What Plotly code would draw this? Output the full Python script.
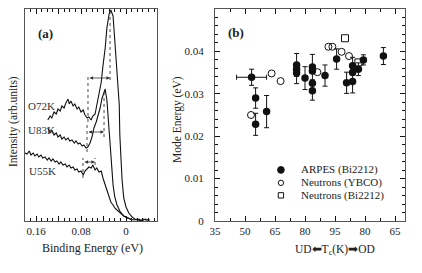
import plotly.graph_objects as go

# ---------------- Panel (a): EDC spectra ----------------
e_o72 = [0.139, 0.135, 0.132, 0.128, 0.124, 0.121, 0.117, 0.114, 0.110, 0.107, 0.103, 0.101,
         0.098, 0.094, 0.091, 0.087, 0.084, 0.080, 0.076, 0.073, 0.069, 0.066, 0.062, 0.059,
         0.055, 0.052, 0.048, 0.044, 0.041, 0.037, 0.034, 0.030, 0.027, 0.023, 0.020, 0.016,
         0.012, 0.011, 0.009, 0.007, 0.004, 0.000, -0.005, -0.011, -0.018, -0.023, -0.028,
         -0.034, -0.039]
i_o72 = [101, 105, 103, 109, 107, 112, 110, 115, 113, 118, 122, 117,
         120, 115, 117, 112, 114, 109, 111, 106, 103, 104, 101, 105,
         107, 115, 126, 139, 155, 173, 193, 207, 211, 205, 181, 151,
         116, 86, 61, 41, 23, 14, 8, 4, 1, 2, 0,
         2, 1]

e_u83 = [0.139, 0.135, 0.132, 0.128, 0.124, 0.121, 0.117, 0.114, 0.110, 0.107, 0.103, 0.100,
         0.096, 0.092, 0.089, 0.085, 0.082, 0.078, 0.075, 0.071, 0.068, 0.064, 0.060, 0.057,
         0.053, 0.050, 0.046, 0.043, 0.039, 0.037, 0.036, 0.034, 0.032, 0.030, 0.028, 0.027,
         0.025, 0.023, 0.020, 0.016, 0.011, 0.004, -0.004, -0.011]
i_u83 = [93, 88, 91, 86, 88, 84, 86, 82, 84, 81, 83, 80,
         81, 78, 80, 77, 78, 75, 76, 73, 74, 78, 85, 93,
         99, 105, 113, 122, 130, 132, 128, 121, 106, 91, 76, 61,
         48, 36, 24, 16, 10, 5, 3, 1]

e_u55 = [0.180, 0.176, 0.172, 0.169, 0.165, 0.162, 0.158, 0.155, 0.151, 0.148, 0.144, 0.140,
         0.137, 0.133, 0.130, 0.126, 0.123, 0.119, 0.116, 0.112, 0.108, 0.105, 0.101, 0.098,
         0.094, 0.091, 0.087, 0.084, 0.080, 0.076, 0.073, 0.069, 0.066, 0.062, 0.059, 0.055,
         0.052, 0.048, 0.044, 0.041, 0.037, 0.034, 0.030, 0.027, 0.023, 0.020, 0.014, 0.009,
         0.004, -0.002, -0.007, -0.014, -0.020, -0.025, -0.030, -0.036, -0.043]
i_u55 = [68, 67, 70, 66, 68, 65, 67, 64, 66, 63, 64, 61,
         63, 60, 62, 59, 60, 57, 59, 56, 57, 54, 56, 53,
         54, 51, 52, 49, 50, 46, 50, 52, 54, 53, 56, 51,
         53, 49, 50, 43, 36, 31, 24, 19, 16, 13, 10, 7,
         5, 3, 2, 1, 2, 0, 2, 1, 1]

curve_names = ["O72K", "U83K", "U55K"]
curve_label_E = [0.150, 0.150, 0.149]
curve_label_I = [115, 91, 50]
# mode markers: dip energy, peak energy, arrow level, dashed extents
dip_E = [0.0676, 0.0693, 0.0765]
peak_E = [0.0284, 0.0391, 0.0551]
arrow_I = [143, 89, 59]
dip_span = [(99, 146), (69, 96), (43, 63)]
peak_span = [(141, 211), (84, 131), (56, 63)]

# ---------------- Panel (b): mode energy vs Tc ----------------
arpes_side = ["UD", "UD", "UD", "UD", "UD", "UD", "UD", "UD", "UD", "UD", "UD", "UD", "UD",
              "OD", "OD", "OD", "OD", "OD", "OD", "OD", "OD"]
arpes_tc = [53.3, 55.3, 55.3, 60.8, 75.8, 75.8, 75.8, 80.0, 83.7, 83.7, 83.7, 83.7, 90.0,
            94.2, 89.2, 86.2, 86.2, 86.2, 83.3, 80.8, 70.8]
arpes_e = [0.0339, 0.0290, 0.0228, 0.0258, 0.0368, 0.0358, 0.0349, 0.0337, 0.0363, 0.0354,
           0.0325, 0.0307, 0.0343, 0.0382, 0.0326, 0.0329, 0.0350, 0.0366, 0.0358, 0.0380,
           0.0389]
arpes_err = [0.0019, 0.0024, 0.0026, 0.0038, 0.0027, 0.0, 0.0025, 0.0027, 0.0030, 0.0,
             0.0, 0.0022, 0.0025, 0.0024, 0.0025, 0.0027, 0.0, 0.0020, 0.0015, 0.0012,
             0.0020]
arpes_tc_err = [7.5, 0, 0, 0, 0, 0, 0, 0, 0, 0, 0, 0, 0, 0, 0, 0, 0, 0, 0, 0, 0]

ybco_side = ["UD", "UD", "UD", "UD", "UD", "UD", "OD", "OD"]
ybco_tc = [53.0, 63.3, 67.8, 86.2, 91.7, 93.7, 91.7, 88.0]
ybco_e = [0.0250, 0.0348, 0.0330, 0.0351, 0.0411, 0.0411, 0.0399, 0.0389]

bi_side = ["OD", "OD"]
bi_tc = [90.0, 83.3]
bi_e = [0.0431, 0.0374]

tc_tickvals = [35, 50, 65, 80, 95, 110, 125]
tc_ticktext = ["35", "50", "65", "80", "95", "80", "65"]
legend_names = ["ARPES (Bi2212)", "Neutrons (YBCO)", "Neutrons (Bi2212)"]


def pos(side, tc):
    # position on the combined UD -> optimal -> OD axis
    return [t if s == "UD" else 190 - t for s, t in zip(side, tc)]


W, H = 422, 273
OFF = 8  # page body margin of the browser


def fx(px):
    return (px - OFF) / W


def fy(py):
    return 1 - (py - OFF) / H


FONT = "Liberation Serif"
INK = "#111111"
FRAME = "#555555"

fig = go.Figure()

for e, i in [(e_o72, i_o72), (e_u83, i_u83), (e_u55, i_u55)]:
    fig.add_trace(go.Scatter(x=e, y=i, mode="lines", line=dict(color=INK, width=1.1),
                             xaxis="x", yaxis="y", showlegend=False, hoverinfo="skip"))

fig.add_trace(go.Scatter(
    x=pos(arpes_side, arpes_tc), y=arpes_e, mode="markers",
    marker=dict(symbol="circle", size=7.5, color=INK),
    error_y=dict(type="data", array=arpes_err, color=INK, thickness=1, width=2.5),
    error_x=dict(type="data", array=arpes_tc_err, color=INK, thickness=1, width=2.5),
    xaxis="x2", yaxis="y2", showlegend=False))
fig.add_trace(go.Scatter(
    x=pos(ybco_side, ybco_tc), y=ybco_e, mode="markers",
    marker=dict(symbol="circle-open", size=7, color=INK, line=dict(width=1)),
    xaxis="x2", yaxis="y2", showlegend=False))
fig.add_trace(go.Scatter(
    x=pos(bi_side, bi_tc), y=bi_e, mode="markers",
    marker=dict(symbol="square-open", size=7, color=INK, line=dict(width=1)),
    xaxis="x2", yaxis="y2", showlegend=False))

shapes = []
annotations = []
for k in range(3):
    shapes.append(dict(type="line", xref="x", yref="y", x0=dip_E[k], x1=dip_E[k],
                       y0=dip_span[k][0], y1=dip_span[k][1],
                       line=dict(color="#333", width=0.9, dash="dot")))
    shapes.append(dict(type="line", xref="x", yref="y", x0=peak_E[k], x1=peak_E[k],
                       y0=peak_span[k][0], y1=peak_span[k][1],
                       line=dict(color="#333", width=0.9, dash="dot")))
    annotations.append(dict(xref="x", yref="y", axref="x", ayref="y",
                            x=peak_E[k], y=arrow_I[k], ax=dip_E[k], ay=arrow_I[k],
                            text="", showarrow=True, arrowhead=2, startarrowhead=2,
                            arrowside="end+start", arrowsize=0.9, startarrowsize=0.9,
                            arrowwidth=0.8, arrowcolor="#333"))
    annotations.append(dict(xref="x", yref="y", x=curve_label_E[k], y=curve_label_I[k],
                            xanchor="center", yanchor="middle",
                            text=curve_names[k], showarrow=False,
                            font=dict(family=FONT, size=11, color="#333")))

# manual legend in panel (b)
leg_x = 0.347
leg_y = [0.241, 0.18, 0.121]
rx, ry = 0.0175, 0.0158
shapes.append(dict(type="circle", xref="x2 domain", yref="y2 domain",
                   x0=leg_x - rx, x1=leg_x + rx, y0=leg_y[0] - ry, y1=leg_y[0] + ry,
                   fillcolor=INK, line=dict(color=INK, width=1)))
shapes.append(dict(type="circle", xref="x2 domain", yref="y2 domain",
                   x0=leg_x - rx * 0.8, x1=leg_x + rx * 0.8, y0=leg_y[1] - ry * 0.8,
                   y1=leg_y[1] + ry * 0.8, line=dict(color=INK, width=1)))
shapes.append(dict(type="rect", xref="x2 domain", yref="y2 domain",
                   x0=leg_x - rx * 0.8, x1=leg_x + rx * 0.8, y0=leg_y[2] - ry * 0.8,
                   y1=leg_y[2] + ry * 0.8, line=dict(color=INK, width=1)))
for k in range(3):
    annotations.append(dict(xref="x2 domain", yref="y2 domain", x=0.44, y=leg_y[k],
                            xanchor="left", yanchor="middle", text=legend_names[k],
                            showarrow=False, font=dict(family=FONT, size=11, color="#222")))


def label(x, y, text, size, angle=0):
    return dict(xref="paper", yref="paper", x=fx(x), y=fy(y), text=text,
                xanchor="center", yanchor="middle", textangle=angle, showarrow=False,
                font=dict(family=FONT, size=size, color="#222"))


annotations += [
    label(45, 33, "<b>(a)</b>", 13),
    label(236, 32, "<b>(b)</b>", 13),
    label(92, 248, "Binding Energy (eV)", 12),
    label(13, 122, "Intensity (arb.units)", 11.5, -90),
    label(177, 120, "Mode Energy (eV)", 11.5, -90),
    label(335, 250, "UD\u2b05T<sub>c</sub>(K)\u27a1OD", 11.5),
]

axis_common = dict(showline=True, linecolor=FRAME, linewidth=1.3, showgrid=False,
                   zeroline=False, ticks="inside", tickcolor=INK, tickwidth=1,
                   automargin=False,
                   tickfont=dict(family=FONT, size=11, color="#222"))

ydom = [fy(221), fy(9)]

fig.update_layout(
    template="none",
    font=dict(family=FONT, size=11, color="#222"),
    width=W, height=H, margin=dict(l=0, r=0, t=0, b=0, pad=0),
    paper_bgcolor="white", plot_bgcolor="white", showlegend=False,
    xaxis=dict(domain=[fx(25), fx(157)], range=[0.1796, -0.0551], anchor="y",
               tickvals=[0.16, 0.12, 0.08, 0.04, 0.0], ticktext=["0.16", "", "0.08", "", "0"],
               ticklen=5, mirror="ticks",
               minor=dict(dtick=0.01, tick0=0, ticks="inside", ticklen=3, tickcolor=INK),
               **axis_common),
    yaxis=dict(domain=ydom, range=[0, 212], anchor="x",
               showline=True, linecolor=FRAME, linewidth=1.3, mirror=True, ticks="",
               showticklabels=False, showgrid=False, zeroline=False, automargin=False),
    xaxis2=dict(domain=[fx(215), fx(405)], range=[35, 130], anchor="y2",
                tickvals=tc_tickvals, ticktext=tc_ticktext, ticklen=5, mirror="ticks",
                minor=dict(dtick=7.5, tick0=35, ticks="inside", ticklen=3, tickcolor=INK),
                **axis_common),
    yaxis2=dict(domain=ydom, range=[0, 0.05], anchor="x2",
                tickvals=[0, 0.01, 0.02, 0.03, 0.04, 0.05],
                ticktext=["0", "0.01", "0.02", "0.03", "0.04", "0.05"],
                ticklen=5, mirror="ticks", ticklabelstandoff=8,
                minor=dict(dtick=0.002, tick0=0, ticks="inside", ticklen=3, tickcolor=INK),
                **axis_common),
    shapes=shapes, annotations=annotations,
)

fig.write_html("out.html")
